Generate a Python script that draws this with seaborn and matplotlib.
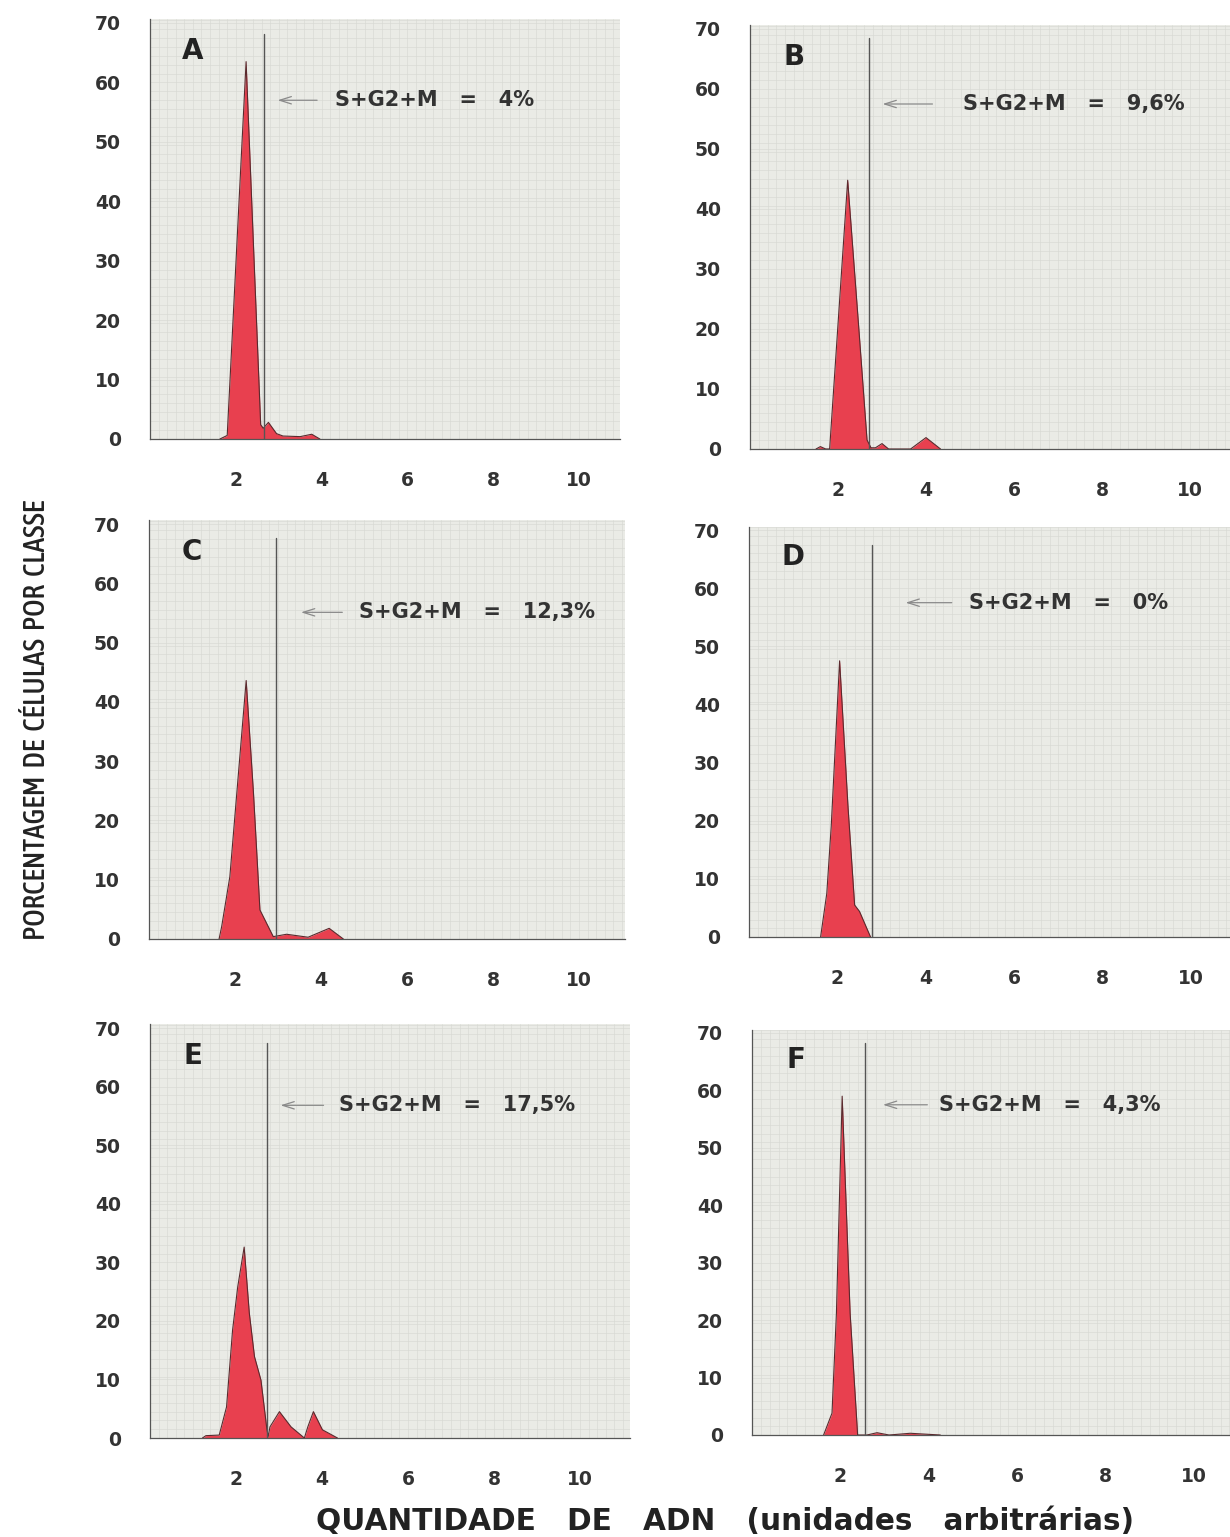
import numpy as np
import pandas as pd
import matplotlib
matplotlib.use("Agg")
import matplotlib.pyplot as plt
from matplotlib import font_manager as fm
from matplotlib.ticker import MultipleLocator
import seaborn as sns

# ---------------- data ----------------
panel_letters = ["A", "B", "C", "D", "E", "F"]
phase_pct = ["4%", "9,6%", "12,3%", "0%", "17,5%", "4,3%"]

x_A = [1.63, 1.80, 2.24, 2.58, 2.64, 2.76, 2.95, 3.10, 3.50, 3.77, 3.96]
y_A = [0.0, 0.6, 63.5, 2.4, 1.8, 2.8, 0.9, 0.5, 0.4, 0.8, 0.0]

x_B = [1.50, 1.60, 1.72, 1.81, 2.22, 2.47, 2.66, 2.75, 2.85, 3.00, 3.15, 3.65, 4.00, 4.33]
y_B = [0.0, 0.4, 0.0, 0.0, 44.8, 20.4, 1.5, 0.2, 0.2, 0.9, 0.0, 0.0, 1.9, 0.0]

x_C = [1.63, 1.69, 1.88, 2.26, 2.43, 2.58, 2.89, 3.20, 3.70, 4.19, 4.52]
y_C = [0.0, 2.1, 10.5, 43.6, 24.6, 4.9, 0.4, 0.8, 0.3, 1.8, 0.0]

x_D = [1.62, 1.76, 1.86, 2.05, 2.24, 2.39, 2.50, 2.75]
y_D = [0.0, 7.5, 19.0, 47.5, 22.4, 5.5, 4.4, 0.0]

x_E = [1.22, 1.30, 1.61, 1.78, 1.92, 2.04, 2.19, 2.31, 2.43, 2.58, 2.72, 2.75,
       2.79, 3.01, 3.28, 3.59, 3.67, 3.80, 4.01, 4.36]
y_E = [0.0, 0.4, 0.5, 5.3, 18.4, 25.8, 32.6, 21.3, 13.9, 9.9, 1.4, 0.3,
       1.9, 4.5, 1.9, 0.0, 1.9, 4.5, 1.4, 0.0]

x_F = [1.62, 1.81, 1.91, 2.04, 2.22, 2.39, 2.60, 2.83, 3.10, 3.58, 4.26]
y_F = [0.0, 3.8, 21.2, 59.0, 21.2, 0.0, 0.0, 0.4, 0.0, 0.3, 0.0]

curves_x = [x_A, x_B, x_C, x_D, x_E, x_F]
curves_y = [y_A, y_B, y_C, y_D, y_E, y_F]

threshold_x = [2.66, 2.71, 2.95, 2.79, 2.73, 2.55]
threshold_top = [68.2, 68.5, 67.6, 67.5, 67.4, 68.3]

arrow_tail = [3.96, 4.21, 4.56, 4.65, 4.10, 4.03]
arrow_head = [2.91, 2.95, 3.47, 3.48, 2.97, 2.90]
label_x = [4.31, 4.83, 4.88, 4.98, 4.40, 4.22]
label_y = [57.0, 57.5, 55.1, 57.5, 56.8, 57.5]

x_ticks = [2, 4, 6, 8, 10]
y_ticks = [0, 10, 20, 30, 40, 50, 60, 70]

# ---------------- layout (pixels) ----------------
W, H = 1230, 1537
# left px, right px, px of y=0, px of y=70, x px per unit
layout = [
    (150, 620, 439, 23, 42.9),
    (750, 1230, 449, 29, 44.0),
    (149, 625, 939, 524, 43.0),
    (749, 1230, 937, 530, 44.2),
    (150, 630, 1438, 1028, 43.0),
    (752, 1230, 1435, 1033, 44.2),
]

sns.set_theme(style="white")
plt.rcParams["font.family"] = ["DejaVu Sans"]

# look for a condensed face for the vertical label (prefer medium weight)
cond = None
best = None
for f in fm.fontManager.ttflist:
    nm = f.name.lower()
    if ("narrow" in nm or "condensed" in nm or str(f.stretch) in ("condensed", "semi-condensed")) \
            and "mono" not in nm and "serif" not in nm and f.style == "normal":
        try:
            w = int(f.weight)
        except Exception:
            w = 700 if "bold" in str(f.weight) else 400
        score = abs(w - 500)
        if best is None or score < best:
            best = score
            cond = f

fig = plt.figure(figsize=(W / 100, H / 100), dpi=100)
fig.patch.set_facecolor("white")

RED = "#e8404f"
TXT = "#333333"
ytop = 70.6

for i in range(6):
    l, r, y0, y70, ppu = layout[i]
    ppy = (y0 - y70) / 70.0
    top_px = y0 - ytop * ppy
    ax = fig.add_axes([l / W, 1 - y0 / H, (r - l) / W, (y0 - top_px) / H])
    ax.set_facecolor("#eaebe6")
    ax.set_xlim(0, (r - l) / ppu)
    ax.set_ylim(0, ytop)

    # graph-paper texture
    ax.xaxis.set_minor_locator(MultipleLocator(0.2))
    ax.yaxis.set_minor_locator(MultipleLocator(1.5))
    ax.grid(which="minor", color="#d7d9d3", lw=0.45)
    ax.grid(which="major", color="#d7d9d3", lw=0.45)
    ax.set_axisbelow(True)

    df = pd.DataFrame({"x": curves_x[i], "y": curves_y[i]})
    ax.fill_between(df["x"], 0, df["y"], color=RED, lw=0, zorder=2)
    sns.lineplot(data=df, x="x", y="y", ax=ax, color="#5a2a2e", lw=0.8,
                 sort=False, estimator=None, zorder=3)

    ax.plot([threshold_x[i], threshold_x[i]], [0, threshold_top[i]],
            color="#555555", lw=1.0, zorder=4)

    ax.annotate("", xy=(arrow_head[i], label_y[i]), xytext=(arrow_tail[i], label_y[i]),
                arrowprops=dict(arrowstyle="->,head_length=0.7,head_width=0.22",
                                color="#8a8a8a", lw=0.9), zorder=5)
    ax.text(label_x[i], label_y[i], "S+G2+M   =   " + phase_pct[i], fontsize=15,
            fontweight="bold", color=TXT, va="center", ha="left", zorder=5)
    ax.text(1.0, 65.3, panel_letters[i], fontsize=20, fontweight="bold",
            color="#222222", ha="center", va="center", zorder=5)

    ax.set_xticks([0] + x_ticks)
    ax.set_xticklabels([""] + [str(t) for t in x_ticks])
    ax.set_yticks(y_ticks)
    ax.set_yticklabels([str(t) for t in y_ticks])
    ax.tick_params(axis="both", which="major", direction="out", length=11, width=0.9,
                   color="#555555", labelsize=13.5, labelcolor=TXT)
    ax.tick_params(axis="x", which="major", pad=12)
    ax.tick_params(axis="y", which="major", pad=10)
    ax.tick_params(which="minor", length=0)
    for lab in ax.get_xticklabels() + ax.get_yticklabels():
        lab.set_fontweight("bold")
    ax.set_xlabel("")
    ax.set_ylabel("")
    for s in ["top", "right"]:
        ax.spines[s].set_visible(False)
    for s in ["left", "bottom"]:
        ax.spines[s].set_color("#555555")
        ax.spines[s].set_linewidth(0.9)

ylab = "PORCENTAGEM  DE  CÉLULAS  POR  CLASSE"
if cond is not None:
    yprop = fm.FontProperties(fname=cond.fname, size=16)
else:
    yprop = fm.FontProperties(family=["Liberation Sans", "DejaVu Sans"], size=16)
ytxt = fig.text(37 / W, 1 - 720 / H, ylab, rotation=90, ha="center", va="center",
                color="#222222", fontproperties=yprop)
# fit the vertical label to the reference length (about 440 px)
renderer = fig.canvas.get_renderer()
ext = ytxt.get_window_extent(renderer=renderer)
if ext.height > 0:
    new_size = 16 * 440.0 / ext.height
    new_size = min(new_size, 24)
    ytxt.set_fontsize(new_size)

fig.text(725 / W, 1 - 1522 / H, "QUANTIDADE   DE   ADN   (unidades   arbitrárias)",
         ha="center", va="center", fontsize=21.3, fontweight="bold", color="#222222")

fig.savefig("out.png", dpi=100, facecolor="white")
